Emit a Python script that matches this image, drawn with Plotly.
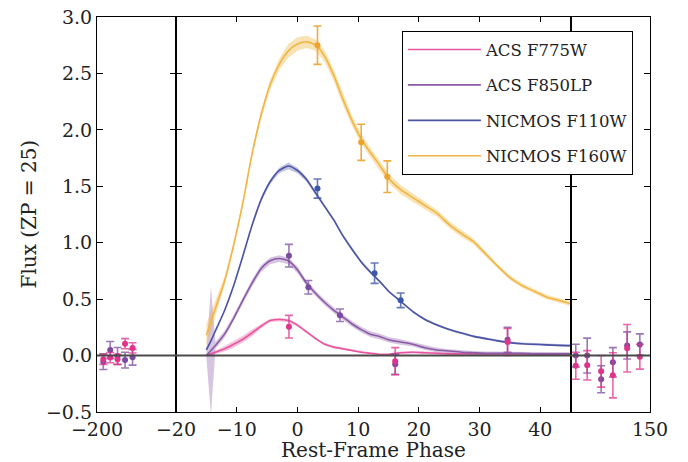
import plotly.graph_objects as go

# ---------------- data ----------------
phase = [-15, -14.25, -13.5, -12, -10.5, -9, -7.5, -6, -4.5, -3, -1.5, 0, 1.5, 3, 4.5, 6,
         7.5, 9, 10.5, 12, 13.5, 15, 17, 19, 21, 23, 25, 27, 29, 31, 33, 35, 37, 39, 41, 43, 45]

f160_curve = [0.18, 0.30, 0.42, 0.66, 0.98, 1.35, 1.78, 2.13, 2.40, 2.58, 2.70, 2.76, 2.78, 2.75,
              2.65, 2.48, 2.27, 2.08, 1.92, 1.80, 1.69, 1.57, 1.47, 1.40, 1.33, 1.26, 1.16, 1.08,
              1.01, 0.90, 0.79, 0.69, 0.62, 0.57, 0.52, 0.49, 0.46]
f160_err = [0.10, 0.09, 0.07, 0.04, 0.03, 0.03, 0.03, 0.035, 0.045, 0.05, 0.06, 0.06, 0.055, 0.05,
            0.05, 0.05, 0.05, 0.045, 0.045, 0.04, 0.04, 0.04, 0.04, 0.035, 0.035, 0.03, 0.03, 0.03,
            0.025, 0.025, 0.02, 0.02, 0.02, 0.02, 0.02, 0.02, 0.02]

f110_curve = [0.05, 0.13, 0.22, 0.40, 0.62, 0.88, 1.15, 1.38, 1.54, 1.64, 1.68, 1.64, 1.56, 1.44,
              1.32, 1.20, 1.06, 0.94, 0.83, 0.74, 0.66, 0.57, 0.48, 0.39, 0.32, 0.27, 0.23, 0.20,
              0.17, 0.15, 0.13, 0.115, 0.105, 0.10, 0.095, 0.09, 0.088]
f110_err = [0.01, 0.01, 0.01, 0.01, 0.01, 0.015, 0.015, 0.02, 0.02, 0.025, 0.03, 0.025, 0.02, 0.015,
            0.015, 0.015, 0.015, 0.015, 0.015, 0.015, 0.01, 0.01, 0.01, 0.01, 0.01, 0.01, 0.01, 0.01,
            0.01, 0.01, 0.01, 0.01, 0.01, 0.01, 0.01, 0.01, 0.01]

f850_curve = [0.00, 0.045, 0.09, 0.19, 0.33, 0.49, 0.64, 0.77, 0.84, 0.86, 0.84, 0.76, 0.64, 0.55,
              0.47, 0.40, 0.34, 0.28, 0.23, 0.19, 0.17, 0.14, 0.12, 0.10, 0.07, 0.05, 0.04, 0.03,
              0.025, 0.02, 0.02, 0.02, 0.02, 0.015, 0.015, 0.015, 0.015]
f850_err = [0.02, 0.57, 0.03, 0.03, 0.03, 0.03, 0.03, 0.03, 0.03, 0.03, 0.03, 0.03, 0.025, 0.025,
            0.025, 0.025, 0.025, 0.025, 0.025, 0.025, 0.025, 0.025, 0.025, 0.02, 0.02, 0.02, 0.015,
            0.015, 0.015, 0.015, 0.015, 0.015, 0.015, 0.015, 0.015, 0.015, 0.015]

f775_curve = [0.00, 0.015, 0.03, 0.06, 0.10, 0.145, 0.20, 0.26, 0.31, 0.32, 0.31, 0.27, 0.21, 0.15,
              0.10, 0.075, 0.06, 0.045, 0.03, 0.02, 0.01, 0.01, 0.025, 0.03, 0.025, 0.02, 0.015,
              0.015, 0.015, 0.015, 0.015, 0.015, 0.015, 0.015, 0.015, 0.015, 0.015]
f775_err = [0.01, 0.01, 0.015, 0.025, 0.03, 0.03, 0.03, 0.02, 0.015, 0.015, 0.015, 0.015, 0.01, 0.01,
            0.01, 0.01, 0.01, 0.01, 0.01, 0.01, 0.01, 0.01, 0.01, 0.01, 0.01, 0.01, 0.01, 0.01,
            0.01, 0.01, 0.01, 0.01, 0.01, 0.01, 0.01, 0.01, 0.01]

# observed points - middle panel
f160_x = [3.3, 10.5, 14.8]
f160_y = [2.75, 1.89, 1.585]
f160_e = [0.17, 0.16, 0.14]

f110_x = [3.3, 12.7, 17.0]
f110_y = [1.48, 0.73, 0.49]
f110_e = [0.085, 0.09, 0.065]

f850_x = [-1.4, 1.8, 7.0, 16.1, 34.6]
f850_y = [0.885, 0.605, 0.357, -0.077, 0.14]
f850_e = [0.10, 0.06, 0.055, 0.09, 0.11]

f775_x = [-1.4, 16.1, 34.6]
f775_y = [0.256, -0.05, 0.12]
f775_e = [0.10, 0.12, 0.12]

# pre-explosion (left panel) points
pre_x = [-196.8, -193.3, -189.6, -185.8, -182.0]
pre_f775_y = [-0.033, -0.018, -0.033, 0.105, 0.068]
pre_f775_e = [0.045, 0.045, 0.045, 0.045, 0.045]
pre_f850_y = [-0.054, 0.05, -0.004, -0.04, -0.015]
pre_f850_e = [0.07, 0.075, 0.075, 0.07, 0.07]

# late-time (right panel) points
late_x = [103.2, 110.4, 119.2, 126.6, 135.6, 143.6]
late_f775_y = [-0.09, -0.086, -0.14, -0.175, 0.065, -0.01]
late_f775_e = [0.12, 0.13, 0.14, 0.20, 0.21, 0.11]
late_f850_y = [0.0, 0.0, -0.21, -0.06, 0.09, 0.097]
late_f850_e = [0.10, 0.155, 0.12, 0.13, 0.12, 0.095]

# ---------------- styles ----------------
FONT = "DejaVu Serif"
col = {
    "F775W": dict(line="#e8559f", pt="#e2338b", band="rgba(232,85,159,0.35)", err="rgba(226,51,139,0.75)"),
    "F850LP": dict(line="#8a5aa6", pt="#7a4b9f", band="rgba(138,90,166,0.35)", err="rgba(122,75,159,0.75)"),
    "F110W": dict(line="#4b53a4", pt="#3c58a9", band="rgba(75,83,164,0.35)", err="rgba(60,88,169,0.8)"),
    "F160W": dict(line="#f1b643", pt="#eca22b", band="rgba(241,182,67,0.40)", err="rgba(236,162,43,0.9)"),
}

fig = go.Figure()


def add_band(x, y, e, c, xa="x2", ya="y2"):
    up = [a + b for a, b in zip(y, e)]
    lo = [a - b for a, b in zip(y, e)]
    fig.add_trace(go.Scatter(x=list(x) + list(x)[::-1], y=up + lo[::-1], fill="toself",
                             fillcolor=c["band"], line=dict(width=0), mode="lines",
                             hoverinfo="skip", showlegend=False, xaxis=xa, yaxis=ya))


def add_line(x, y, c, name):
    fig.add_trace(go.Scatter(x=x, y=y, mode="lines", name=name,
                             line=dict(color=c["line"], width=1.6, shape="spline", smoothing=0.6),
                             legendgroup=name, xaxis="x2", yaxis="y2"))


def add_pts(x, y, e, c, xa, ya, name):
    fig.add_trace(go.Scatter(x=x, y=y, mode="markers", showlegend=False, legendgroup=name,
                             marker=dict(color=c["pt"], size=6),
                             error_y=dict(type="data", array=e, color=c["err"], thickness=1.6, width=4),
                             xaxis=xa, yaxis=ya))


series = [
    ("ACS F775W", "F775W", f775_curve, f775_err),
    ("ACS F850LP", "F850LP", f850_curve, f850_err),
    ("NICMOS F110W", "F110W", f110_curve, f110_err),
    ("NICMOS F160W", "F160W", f160_curve, f160_err),
]
for name, key, cy, ce in series:
    add_band(phase, cy, ce, col[key])
for name, key, cy, ce in series:
    add_line(phase, cy, col[key], name)

add_pts(f160_x, f160_y, f160_e, col["F160W"], "x2", "y2", "NICMOS F160W")
add_pts(f110_x, f110_y, f110_e, col["F110W"], "x2", "y2", "NICMOS F110W")
add_pts(f850_x, f850_y, f850_e, col["F850LP"], "x2", "y2", "ACS F850LP")
add_pts(f775_x, f775_y, f775_e, col["F775W"], "x2", "y2", "ACS F775W")

add_pts(pre_x, pre_f850_y, pre_f850_e, col["F850LP"], "x", "y", "ACS F850LP")
add_pts(pre_x, pre_f775_y, pre_f775_e, col["F775W"], "x", "y", "ACS F775W")
add_pts(late_x, late_f850_y, late_f850_e, col["F850LP"], "x3", "y3", "ACS F850LP")
add_pts(late_x, late_f775_y, late_f775_e, col["F775W"], "x3", "y3", "ACS F775W")

# zero line across all panels
fig.add_shape(type="line", xref="paper", yref="y", x0=0, x1=1, y0=0, y1=0,
              line=dict(color="#4a4a4a", width=2), layer="above")

L, R, T, B = 97, 38, 17, 50
W, H = 688, 462
pw = W - L - R
ph = H - T - B
d1 = (176 - L) / pw
d2 = (570.7 - L) / pw

tickfont = dict(family=FONT, size=19, color="#222")
xcommon = dict(showline=True, linecolor="black", linewidth=1.2, mirror="ticks", ticks="inside",
               ticklen=5, tickcolor="black", showgrid=False, zeroline=False, tickfont=tickfont,
               automargin=False)
ycommon = dict(showline=True, linecolor="black", linewidth=1.2, mirror="ticks", ticks="inside",
               ticklen=6, tickcolor="black", showgrid=False, zeroline=False, automargin=False,
               range=[-0.5, 3.0], tickvals=[-0.5, 0, 0.5, 1.0, 1.5, 2.0, 2.5, 3.0])

fig.update_layout(
    width=W, height=H,
    margin=dict(l=L, r=R, t=T, b=B),
    plot_bgcolor="white", paper_bgcolor="white",
    font=dict(family=FONT, color="#222"),
    xaxis=dict(domain=[0, d1], range=[-200, -160], tickvals=[-200], anchor="y", **xcommon),
    xaxis2=dict(domain=[d1, d2], range=[-20, 45], tickvals=[-20, -10, 0, 10, 20, 30, 40], anchor="y2",
                **xcommon),
    xaxis3=dict(domain=[d2, 1], range=[100, 150], tickvals=[150], anchor="y3", **xcommon),
    yaxis=dict(anchor="x", tickformat=".1f", tickfont=tickfont, **ycommon),
    yaxis2=dict(anchor="x2", matches="y", showticklabels=False, **ycommon),
    yaxis3=dict(anchor="x3", matches="y", showticklabels=False, **ycommon),
    legend=dict(x=(401.7 - L) / pw, y=(H - B - 31) / ph, xanchor="left", yanchor="top",
                bordercolor="black", borderwidth=1.2, bgcolor="white",
                font=dict(family=FONT, size=16.5, color="#222"),
                traceorder="grouped", tracegroupgap=11, itemwidth=73),
    showlegend=True,
    annotations=[
        dict(text="Rest-Frame Phase", xref="paper", yref="paper", x=(373.5 - L) / pw,
             y=-(450 - (H - B)) / ph, xanchor="center", yanchor="middle", showarrow=False,
             font=dict(family=FONT, size=20, color="#222")),
        dict(text="Flux (ZP = 25)", xref="paper", yref="paper", x=(28 - L) / pw,
             y=(H - B - 214.5) / ph, xanchor="center", yanchor="middle", showarrow=False,
             textangle=-90, font=dict(family=FONT, size=20, color="#222")),
    ],
)

fig.write_html("out.html", config={"displayModeBar": False},
               post_script="document.body.style.margin='0';document.body.style.padding='0';")
